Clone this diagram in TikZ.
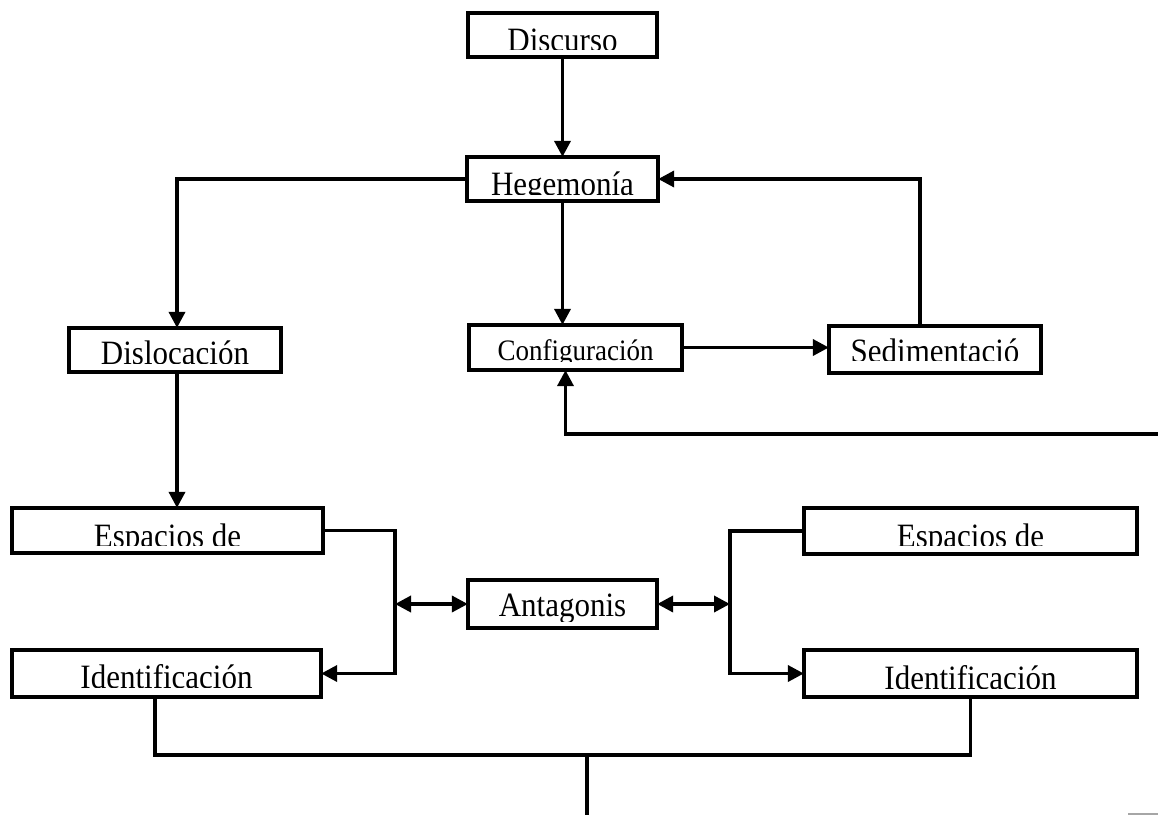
\documentclass[tikz,border=0pt]{standalone}
\usepackage{fontspec}
\setmainfont{Liberation Serif}
\usetikzlibrary{arrows.meta}
\tikzset{
  bx/.style={draw, line width=3.7pt, rectangle, inner sep=0pt, outer sep=0pt},
  lbl/.style={anchor=base, inner sep=0pt},
  con/.style={line width=3.6pt},
  tip/.tip={Triangle[length=16pt,width=16pt]},
  arr/.style={con, -tip},
  darr/.style={con, tip-tip},
}
% name, x1, y1, x2, y2, baseline, clip y, font size, text
\newcommand\mkbox[9]{%
  \node[bx, minimum width=#4pt-#2pt-3.7pt, minimum height=#5pt-#3pt-3.7pt] (#1) at ({(#2+#4)/2},{(#3+#5)/2}) {};
  \begin{scope}
    \clip (#2,#3) rectangle (#4,#7);
    \node[lbl, font=\fontsize{#8}{#8}\selectfont, yscale=1.1, transform shape] (#1-t) at ({(#2+#4)/2},#6) {#9};
  \end{scope}%
}
\begin{document}
\begin{tikzpicture}[x=1pt,y=-1pt]
\useasboundingbox (0,0) rectangle (1158,815);
\mkbox{disc}{466}{11}{659}{59}{51}{49}{31}{Discurso}
\mkbox{heg}{465}{155}{660}{203}{195.5}{194}{31}{Hegemonía}
\mkbox{dis}{67}{326}{283}{374}{364.5}{363.5}{31}{Dislocación}
\mkbox{conf}{467}{323}{684}{372}{360}{361}{27}{Configuración}
\mkbox{sed}{827}{324}{1043}{375}{362.5}{360}{31}{Sedimentació}
\mkbox{espL}{10}{506}{325}{555}{547.5}{545}{31}{Espacios de}
\mkbox{espR}{802}{506}{1139}{556}{547.5}{545}{31}{Espacios de}
\mkbox{idL}{10}{648}{323}{699}{688.5}{687}{31}{Identificación}
\mkbox{idR}{802}{648}{1139}{699}{689}{688}{31}{Identificación}
\mkbox{ant}{466}{578}{659}{630}{616.5}{621}{31}{Antagonis}

\coordinate (rin) at (1158,434);
\coordinate (bl) at (395,600);
\coordinate (br) at (730,600);
\coordinate (bj) at (587,755);
\coordinate (bend) at (587,815);

\draw[arr] (disc.south) -- (heg.north);
\draw[arr] (heg.west) -| ([xshift=2pt]dis.north);
\draw[arr] ([xshift=-15pt]sed.north) |- (heg.east);
\draw[arr] (heg.south) -- (heg.south |- conf.north);
\draw[arr] (conf.east) -- (conf.east -| sed.west);
\draw[arr] (rin) -| ([xshift=-10pt]conf.south);
\draw[arr] ([xshift=2pt]dis.south) -- ([xshift=2pt]dis.south |- espL.north);

\draw[arr] (espL.east) -| (bl |- idL.east) -- (idL.east);
\draw[darr] (bl |- ant.west) -- (ant.west);
\draw[darr] (ant.east) -- (ant.east -| br);
\draw[arr] (espR.west) -| (br |- idR.west) -- (idR.west);

\draw[con] ([xshift=-11.5pt]idL.south) |- (idR.south |- bj) -- (idR.south);
\draw[con] (bj) -- (bend);

\draw[gray!70, line width=1.2pt] (1128,814) -- (1158,814);
\end{tikzpicture}
\end{document}
